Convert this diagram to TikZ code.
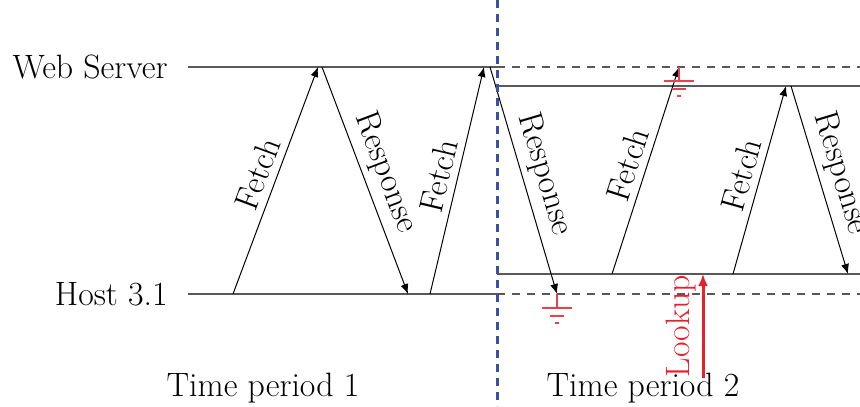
\documentclass[tikz,border=0pt]{standalone}
\usepackage{tikz}
\usetikzlibrary{arrows.meta}

\definecolor{divblue}{RGB}{58,80,160}
\definecolor{lkred}{RGB}{232,32,44}

\begin{document}
\begin{tikzpicture}[
      x=0.5pt, y=-0.5pt,
      >={Latex[length=5pt, width=4pt]},
      every node/.style={font=\fontsize{16.9}{20}\selectfont},
      timeline/.style={draw=black!65, line width=0.75pt},
      oldline/.style={draw=black!65, line width=0.75pt, dash pattern=on 4pt off 3.5pt},
      msg/.style={->, draw=black, line width=0.5pt},
      divider/.style={draw=divblue, line width=1.5pt, dash pattern=on 4pt off 3pt},
      lookup/.style={-{Latex[length=6pt, width=5pt]}, draw=lkred, line width=1.5pt},
      gnd/.style={draw=lkred!85, line width=0.6pt},
      gndsym/.pic={\draw[gnd] (0,0) -- (0,14) (-15,14) -- (15,14) (-7,22) -- (7,22) (-2,29) -- (2,29);}
  ]
      \useasboundingbox (0,0) rectangle (860,406);
      \clip (0,0) rectangle (860,406);

      % Hosts
      \node[anchor=east, inner sep=0pt] (ws) at (168,67)  {Web Server};
      \node[anchor=east, inner sep=0pt] (host) at (168,294) {Host 3.1};

      % Time lines
      \coordinate (wsL) at (188,67);  \coordinate (wsM) at (497,67);  \coordinate (wsR) at (860,67);
      \coordinate (hL)  at (188,294); \coordinate (hM)  at (497,294); \coordinate (hR)  at (860,294);
      \coordinate (ws2L) at (497,86);  \coordinate (ws2R) at (860,86);
      \coordinate (h2L)  at (497,274); \coordinate (h2R)  at (860,274);
      \draw[timeline] (wsL) -- (wsM);
      \draw[timeline] (hL) -- (hM);
      \draw[oldline] (wsM) -- (wsR);
      \draw[oldline] (hM) -- (hR);
      \draw[timeline] (ws2L) -- (ws2R);
      \draw[timeline] (h2L) -- (h2R);

      % Messages (period 1)
      \coordinate (f1a) at (233,294); \coordinate (f1b) at (318,67);
      \coordinate (r1a) at (322,67);  \coordinate (r1b) at (408,294);
      \coordinate (f2a) at (430,294); \coordinate (f2b) at (484,67);
      \coordinate (r2a) at (490,67);  \coordinate (r2b) at (557,294);
      \draw[msg] (f1a) -- node[above, sloped] {Fetch} (f1b);
      \draw[msg] (r1a) -- node[above, sloped] {Response} (r1b);
      \draw[msg] (f2a) -- node[above, sloped] {Fetch} (f2b);
      \draw[msg] (r2a) -- node[above, sloped] {Response} (r2b);

      % Messages (period 2)
      \coordinate (f3a) at (612,274); \coordinate (f3b) at (679,67);
      \coordinate (f4a) at (733,274); \coordinate (f4b) at (786,86);
      \coordinate (r3a) at (791,86);  \coordinate (r3b) at (848,274);
      \draw[msg] (f3a) -- node[above, sloped] {Fetch} (f3b);
      \draw[msg] (f4a) -- node[above, sloped] {Fetch} (f4b);
      \draw[msg] (r3a) -- node[above, sloped] {Response} (r3b);

      % Lost messages
      \pic at (r2b) {gndsym};
      \pic at (f3b) {gndsym};

      % Lookup
      \coordinate (lk0) at (703,378); \coordinate (lk1) at (703,274);
      \draw[lookup] (lk0) -- (lk1);
      \node[rotate=90, anchor=south, text=lkred, inner sep=2pt] (lkl) at (700,326) {Lookup};

      % Periods
      \coordinate (dv0) at (497,0); \coordinate (dv1) at (497,406);
      \draw[divider] (dv0) -- (dv1);
      \node (tp1) at (263,388) {Time period 1};
      \node (tp2) at (643,388) {Time period 2};
  \end{tikzpicture}
\end{document}
